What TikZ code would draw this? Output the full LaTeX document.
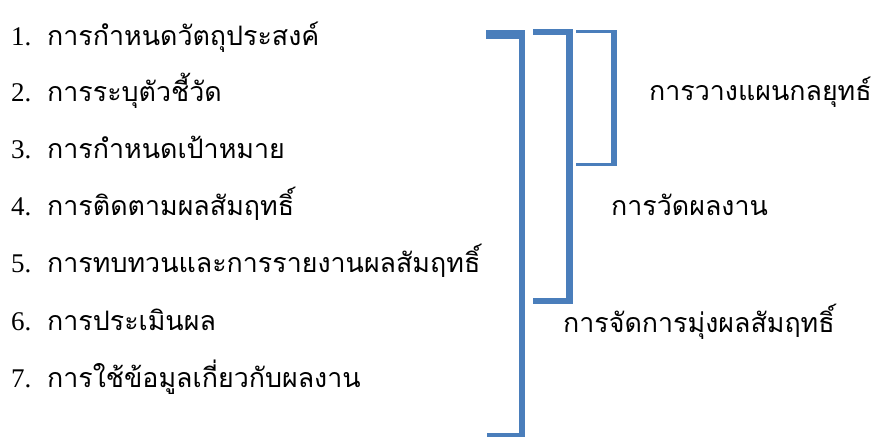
\documentclass[tikz,border=0pt]{standalone}
\usepackage{fontspec}
\setmainfont{Liberation Serif}
\newfontfamily\thaifont[Script=Thai]{Loma}
\definecolor{brblue}{HTML}{4A7EBB}
\begin{document}
\begin{tikzpicture}[x=1pt,y=-1pt,
  num/.style={anchor=base west,inner sep=0pt,font=\fontsize{27}{30}\selectfont},
  thai/.style={anchor=base west,inner sep=0pt,font=\thaifont\fontsize{26.8}{30}\selectfont},
  bar/.style={fill=brblue,draw=none}]
\useasboundingbox (0,0) rectangle (871,437);
% left list
\foreach \i/\y/\t in {1/45/การกำหนดวัตถุประสงค์,2/101/การระบุตัวชี้วัด,3/158/การกำหนดเป้าหมาย,4/215/การติดตามผลสัมฤทธิ์,5/272/การทบทวนและการรายงานผลสัมฤทธิ์,6/330/การประเมินผล,7/387/การใช้ข้อมูลเกี่ยวกับผลงาน}{
  \node[num] (n\i) at (11,\y) {\i.};
  \node[thai] (t\i) at (47,\y) {\t};
}
% brackets
\fill[bar] (486,30) rectangle (525,39);
\fill[bar] (519,30) rectangle (525,437);
\fill[bar] (487,433) rectangle (525,437);
\fill[bar] (533,29) rectangle (573,35);
\fill[bar] (566,29) rectangle (573,304);
\fill[bar] (533,298) rectangle (573,304);
\fill[bar] (576,30) rectangle (617,33);
\fill[bar] (611,30) rectangle (617,166);
\fill[bar] (576,163) rectangle (617,166);
% right labels
\node[thai] (plan) at (649,100) {การวางแผนกลยุทธ์};
\node[thai] (measure) at (611,215) {การวัดผลงาน};
\node[thai] (manage) at (563,332) {การจัดการมุ่งผลสัมฤทธิ์};
\end{tikzpicture}
\end{document}
